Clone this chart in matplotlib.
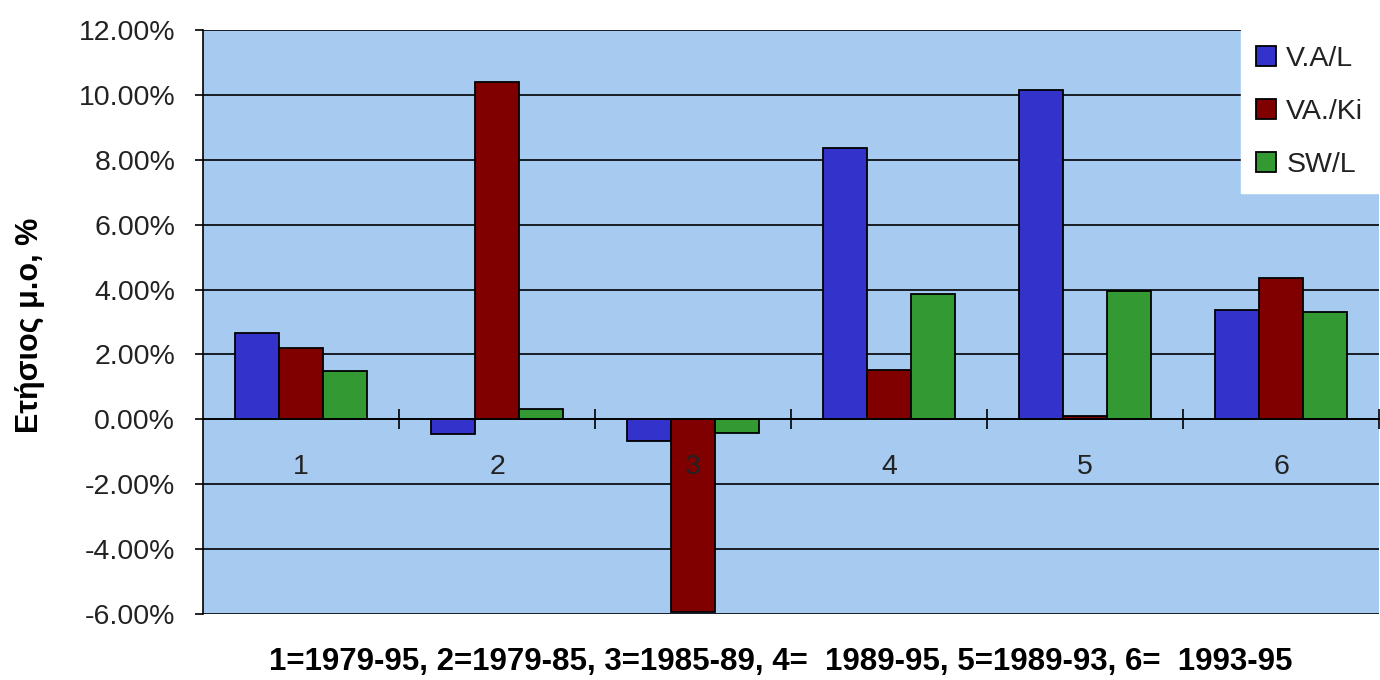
import matplotlib
matplotlib.use("Agg")
import matplotlib.pyplot as plt
from matplotlib.ticker import PercentFormatter, FixedLocator
import numpy as np

plt.rcParams['font.family'] = ['Liberation Sans', 'DejaVu Sans']
plt.rcParams['axes.unicode_minus'] = False

# data (annual averages, %)
categories = ['1', '2', '3', '4', '5', '6']
series_names = ['V.A/L', 'VA./Ki', 'SW/L']
va_l = [2.65, -0.46, -0.68, 8.37, 10.15, 3.38]
va_ki = [2.20, 10.40, -5.94, 1.52, 0.10, 4.37]
sw_l = [1.48, 0.31, -0.43, 3.87, 3.95, 3.32]
yticks = [-6, -4, -2, 0, 2, 4, 6, 8, 10, 12]
period_note = "1=1979-95, 2=1979-85, 3=1985-89, 4=  1989-95, 5=1989-93, 6=  1993-95"
ylabel = "Ετήσιος μ.ο, %"

colors = ['#3333CC', '#800000', '#339933']
bg = '#A6CAF0'
txt = '#222222'

fig = plt.figure(figsize=(13.8, 6.8), dpi=100)
ax = fig.add_axes([0.1471, 0.0971, 0.8522, 0.8588])
ax.set_facecolor(bg)

x = np.arange(1, len(categories) + 1)
w = 0.225
for i, (vals, name) in enumerate(zip([va_l, va_ki, sw_l], series_names)):
    ax.bar(x + (i - 1) * w, vals, width=w, color=colors[i], edgecolor='black',
           linewidth=1.3, label=name, zorder=2)

ax.set_xlim(0.5, len(categories) + 0.5)
ax.set_ylim(-6, 12)

# horizontal gridlines behind the bars
for t in yticks:
    ax.axhline(t, color='black', linewidth=1.2, zorder=0.5)

ax.yaxis.set_major_locator(FixedLocator(yticks))
ax.yaxis.set_major_formatter(PercentFormatter(decimals=2))
ax.tick_params(axis='y', direction='out', length=6, width=1.2, pad=14,
               labelsize=20.5, labelcolor=txt)

# category axis sits on the zero line, labels drawn over the bars
ax.spines['bottom'].set_position(('data', 0))
ax.spines['bottom'].set_linewidth(1.2)
ax.spines['left'].set_linewidth(1.2)
ax.spines['top'].set_visible(False)
ax.spines['right'].set_visible(False)
ax.set_xticks(x)
ax.set_xticklabels(categories)
ax.set_xticks(np.arange(1.5, len(categories) + 1), minor=True)
ax.tick_params(axis='x', which='major', length=0, pad=25, labelsize=20.5,
               labelcolor=txt)
ax.tick_params(axis='x', which='minor', direction='inout', length=15, width=1.2)
ax.xaxis.set_zorder(3)

leg = ax.legend(loc='upper right', bbox_to_anchor=(1.0, 1.0), borderaxespad=0,
                fontsize=20.5, frameon=True, fancybox=False, framealpha=1,
                handlelength=0.7, handleheight=0.7, handletextpad=0.35,
                labelspacing=0.95, borderpad=0.55)
leg.get_frame().set_facecolor('white')
leg.get_frame().set_edgecolor('white')
for t in leg.get_texts():
    t.set_color(txt)

fig.text(30 / 1380, 1 - 325 / 680, ylabel, rotation=90, ha='center', va='center',
         fontsize=22, fontweight='bold')
fig.text(0.566, 1 - 662 / 680, period_note, ha='center', va='center',
         fontsize=22.5, fontweight='bold')

fig.savefig('out.png', dpi=100, facecolor='white')
